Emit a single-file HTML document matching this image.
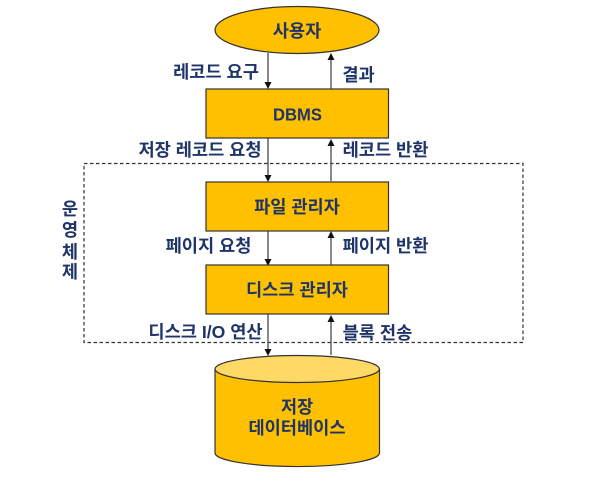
<!DOCTYPE html>
<html><head><meta charset="utf-8"><style>
html,body{margin:0;padding:0;background:#fff;width:602px;height:488px;overflow:hidden}
svg{display:block;filter:blur(0.35px)}
text{font-family:"Liberation Sans","Noto Sans CJK KR",sans-serif;font-weight:700;fill:#1f3468;font-size:17.6px}
.c{text-anchor:middle}
</style></head><body>
<svg width="602" height="488" viewBox="0 0 602 488" xmlns="http://www.w3.org/2000/svg">
<rect x="84" y="163.500" width="439" height="179" fill="none" stroke="#333" stroke-width="1.2" stroke-dasharray="3.500 2.500"/>
<g stroke="#555" stroke-width="1.4" fill="none">
<path d="M268 53V85M331 59V89M268 138V177M331 146V181M268 231V261M331 238V265M268 314V351M331 321V355"/>
</g>
<g fill="#111">
<path d="M264.500 82L271.500 82L268 89Z"/>
<path d="M264.500 175L271.500 175L268 182Z"/>
<path d="M264.500 259L271.500 259L268 266Z"/>
<path d="M264.500 349L271.500 349L268 356Z"/>
<path d="M327.500 60L334.500 60L331 53Z"/>
<path d="M327.500 146L334.500 146L331 139Z"/>
<path d="M327.500 238L334.500 238L331 231Z"/>
<path d="M327.500 322L334.500 322L331 315Z"/>
</g>
<g fill="#ffc000" stroke="#333" stroke-width="1.2">
<ellipse cx="297" cy="30" rx="82" ry="23.500"/>
<rect x="206" y="89" width="182.500" height="49"/>
<rect x="206" y="182" width="182.500" height="49"/>
<rect x="206" y="265" width="182.500" height="49"/>
<path d="M215 369V453A82 13.500 0 0 0 379.500 453V369Z"/>
<ellipse cx="297.200" cy="369" rx="82.200" ry="13.500" fill="#ffd966"/>
</g>
<text class="c" x="297" y="37">사용자</text>
<text class="c" x="297.500" y="120.500" textLength="49" lengthAdjust="spacingAndGlyphs">DBMS</text>
<text class="c" x="297" y="213">파일 관리자</text>
<text class="c" x="297" y="296">디스크 관리자</text>
<text class="c" x="297" y="413">저장</text>
<text class="c" x="297" y="434">데이터베이스</text>
<text class="c" x="216" y="78">레코드 요구</text>
<text class="c" x="358.500" y="81">결과</text>
<text class="c" x="200" y="156">저장 레코드 요청</text>
<text class="c" x="385.500" y="156">레코드 반환</text>
<text class="c" x="208.500" y="252">페이지 요청</text>
<text class="c" x="385.500" y="252">페이지 반환</text>
<text class="c" x="205.500" y="338">디스크 I/O 연산</text>
<text class="c" x="377.500" y="339">블록 전송</text>
<text class="c" x="70" y="215">운</text>
<text class="c" x="70" y="236">영</text>
<text class="c" x="70" y="258">체</text>
<text class="c" x="70" y="278">제</text>
</svg>
</body></html>
